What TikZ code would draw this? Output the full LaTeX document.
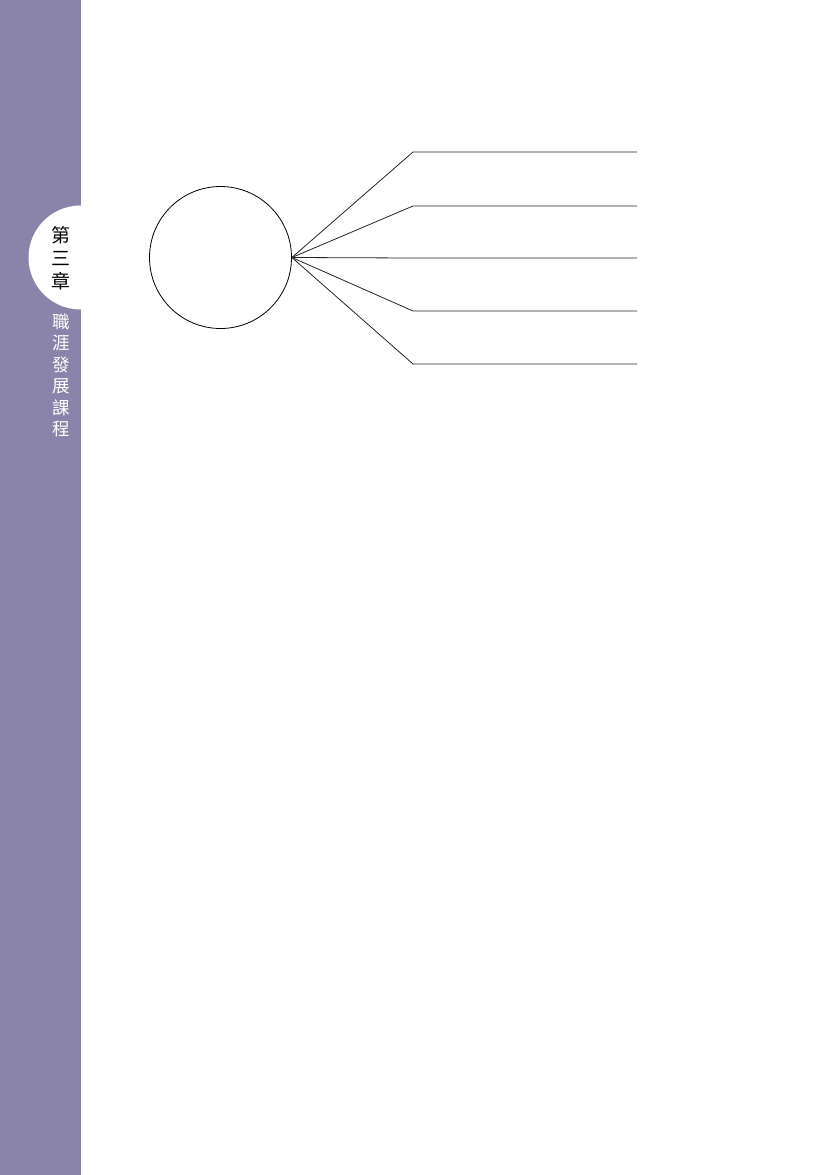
\documentclass[tikz,border=0pt]{standalone}
\usepackage{fontspec}
\newfontfamily\cjk{Noto Sans CJK TC}
\definecolor{barpurple}{RGB}{138,132,170}
\begin{document}
\begin{tikzpicture}[x=1pt,y=-1pt,
  branch/.style={draw=black!85,line width=0.8pt},
  chap/.style={font=\cjk\fontsize{19}{19}\selectfont,text=black,inner sep=0pt},
  side/.style={font=\cjk\fontsize{17.5}{17.5}\selectfont,text=white,inner sep=0pt}]
\useasboundingbox (0,0) rectangle (832,1175);
\fill[white] (0,0) rectangle (832,1175);
\fill[barpurple] (0,0) rectangle (80.5,1175);
\fill[white] (80.5,257.5) circle[radius=52];
\node[chap] (k1) at (61,235.5) {第};
\node[chap] (k2) at (61,258.5) {三};
\node[chap] (k3) at (61,281.5) {章};
\foreach \t [count=\i] in {職,涯,發,展,課,程}
  \node[side] (s\i) at (61,{300.6+21.4*\i}) {\t};
\node[draw,circle,line width=0.8pt,minimum size=142pt,inner sep=0pt] (c) at (220.5,257.5) {};
\foreach \y [count=\i] in {152,206,258,311,364} {
  \coordinate (b\i) at (413,\y);
  \coordinate (e\i) at (637,\y);
  \draw[branch] (c.east) -- (b\i) -- (e\i);
}
\end{tikzpicture}
\end{document}
